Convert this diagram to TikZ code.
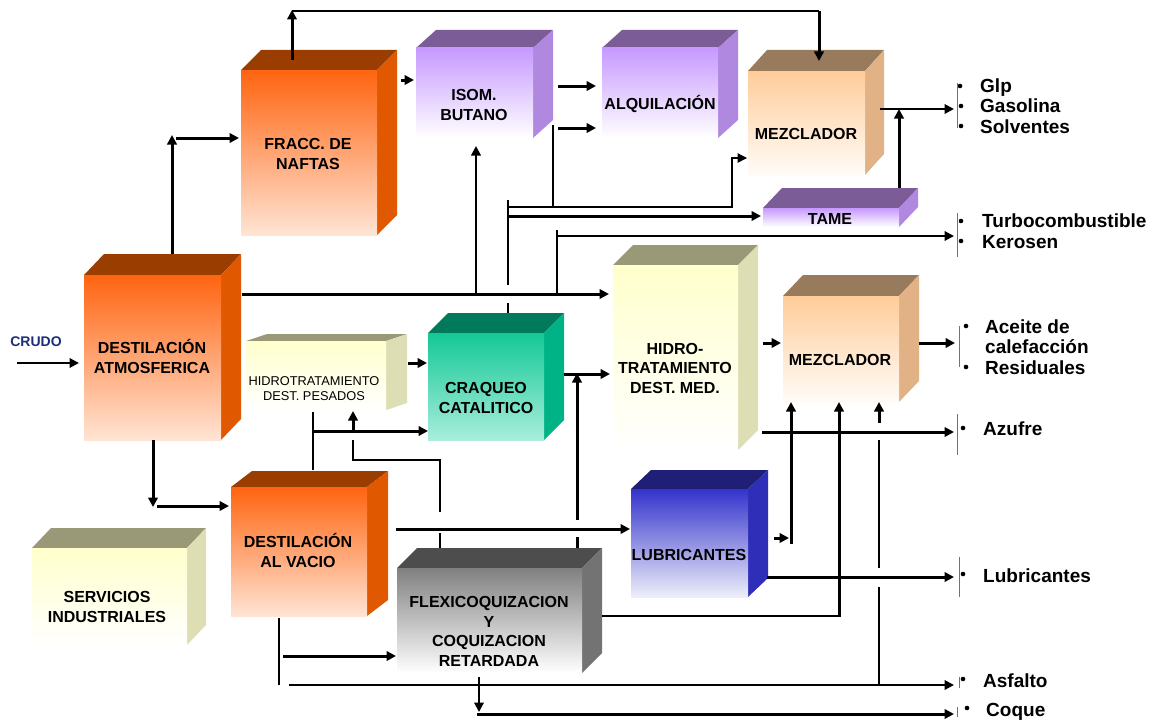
\documentclass[tikz,border=0pt]{standalone}
\usepackage{fontspec}
\setmainfont{Liberation Sans}
\usetikzlibrary{arrows.meta}
\definecolor{ortopc}{HTML}{993D00}\definecolor{orsidec}{HTML}{E05800}
\definecolor{orf1}{HTML}{FF6410}\definecolor{orf2}{HTML}{FFE4D4}
\definecolor{putopc}{HTML}{7B5C96}\definecolor{pusidec}{HTML}{B088E0}
\definecolor{puf1}{HTML}{C699FF}\definecolor{puf2}{HTML}{FFFFFF}
\definecolor{mztopc}{HTML}{977B5C}\definecolor{mzsidec}{HTML}{E0B286}
\definecolor{mzf1}{HTML}{FFCC99}\definecolor{mzf2}{HTML}{FFFCF8}
\definecolor{yetopc}{HTML}{999977}\definecolor{yesidec}{HTML}{DEDEB4}
\definecolor{yef1}{HTML}{FFFFCC}\definecolor{yef2}{HTML}{FFFFFF}
\definecolor{grtopc}{HTML}{007A5A}\definecolor{grsidec}{HTML}{00B386}
\definecolor{grf1}{HTML}{14C896}\definecolor{grf2}{HTML}{A8EEDC}
\definecolor{gytopc}{HTML}{4D4D4D}\definecolor{gysidec}{HTML}{737373}
\definecolor{gyf1}{HTML}{808080}\definecolor{gyf2}{HTML}{FFFFFF}
\definecolor{bltopc}{HTML}{1F1F77}\definecolor{blsidec}{HTML}{2E2EB8}
\definecolor{blf1}{HTML}{3333CC}\definecolor{blf2}{HTML}{EEEEFA}
\definecolor{crudoc}{HTML}{1C2E7A}
\tikzset{
 ortop/.style={fill=ortopc}, orside/.style={fill=orsidec}, orfront/.style={top color=orf1, bottom color=orf2},
 putop/.style={fill=putopc}, puside/.style={fill=pusidec}, pufront/.style={top color=puf1, bottom color=puf2},
 mztop/.style={fill=mztopc}, mzside/.style={fill=mzsidec}, mzfront/.style={top color=mzf1, bottom color=mzf2},
 yetop/.style={fill=yetopc}, yeside/.style={fill=yesidec}, yefront/.style={top color=yef1, bottom color=yef2},
 grtop/.style={fill=grtopc}, grside/.style={fill=grsidec}, grfront/.style={top color=grf1, bottom color=grf2},
 gytop/.style={fill=gytopc}, gyside/.style={fill=gysidec}, gyfront/.style={top color=gyf1, bottom color=gyf2},
 bltop/.style={fill=bltopc}, blside/.style={fill=blsidec}, blfront/.style={top color=blf1, bottom color=blf2},
 thk/.style={line width=3pt},
 med/.style={line width=2pt},
 thn/.style={line width=1.3pt},
 arw/.style={-{Triangle[length=9.5pt,width=9.5pt]}},
 brk/.style={line width=0.8pt, draw=black!55},
 lbl/.style={font=\bfseries\fontsize{16}{19.5}\selectfont, align=center, anchor=base, inner sep=0pt},
 outlbl/.style={font=\bfseries\fontsize{19}{20.5}\selectfont, align=left, anchor=base west, inner sep=0pt},
}
\newcommand{\cubo}[7]{%
 \fill[#7top] (#1,#2) -- (#1+#5,#2-#6) -- (#3+#5,#2-#6) -- (#3,#2) -- cycle;
 \fill[#7side] (#3,#2) -- (#3+#5,#2-#6) -- (#3+#5,#4-#6) -- (#3,#4) -- cycle;
 \shade[#7front] (#1,#2) rectangle (#3,#4);
}
\begin{document}
\begin{tikzpicture}[x=1pt,y=-1pt]
\useasboundingbox (0,0) rectangle (1158,725);
% boxes
\cubo{241}{70}{377}{235}{20}{20}{or}
\cubo{416}{48}{533}{138}{20}{18}{pu}
\cubo{602}{48}{718}{138}{20}{18}{pu}
\cubo{748}{71}{865}{175}{19}{21}{mz}
\cubo{763}{208}{899}{227}{19}{20}{pu}
\cubo{84}{275}{221}{440}{20}{21}{or}
\cubo{246}{341}{386}{410}{21}{7}{ye}
\cubo{428}{333}{544}{440}{20}{20}{gr}
\cubo{613}{265}{738}{450}{20}{20}{ye}
\cubo{783}{296}{899}{402}{20}{21}{mz}
\cubo{231}{487}{367}{616}{21}{16}{or}
\cubo{32}{548}{187}{645}{19}{20}{ye}
\cubo{397}{568}{582}{673}{20}{20}{gy}
\cubo{631}{489}{748}{597}{20}{19}{bl}
% labels (base anchor = baseline of last line)
\node[lbl] (fracc) at (308,169) {FRACC. DE\\NAFTAS};
\node[lbl] (isom) at (474,120) {ISOM.\\BUTANO};
\node[lbl] (alq) at (660,109) {ALQUILACIÓN};
\node[lbl] (mez1) at (806,139) {MEZCLADOR};
\node[lbl] (tame) at (830,224) {TAME};
\node[lbl] (atm) at (152,373) {DESTILACIÓN\\ATMOSFERICA};
\node[lbl, font=\fontsize{12.8}{15}\selectfont] (hdp) at (314,400) {HIDROTRATAMIENTO\\DEST. PESADOS};
\node[lbl] (craq) at (486,413) {CRAQUEO\\CATALITICO};
\node[lbl] (hdm) at (675,393) {HIDRO-\\TRATAMIENTO\\DEST. MED.};
\node[lbl] (mez2) at (840,365) {MEZCLADOR};
\node[lbl] (vac) at (298,567) {DESTILACIÓN\\AL VACIO};
\node[lbl] (serv) at (107,622) {SERVICIOS\\INDUSTRIALES};
\node[lbl] (flexi) at (489,666) {FLEXICOQUIZACION\\Y\\COQUIZACION\\RETARDADA};
\node[lbl] (lub) at (689,560) {LUBRICANTES};
\node[lbl, font=\bfseries\fontsize{14}{16}\selectfont, text=crudoc] (crudo) at (36,346) {CRUDO};
% outputs
\node[outlbl] (o1) at (980,133) {Glp\\Gasolina\\Solventes};
\node[outlbl] (o2) at (982,248) {Turbocombustible\\Kerosen};
\node[outlbl] (o3) at (985,374) {Aceite de\\calefacción\\Residuales};
\node[outlbl] (o4) at (983,435) {Azufre};
\node[outlbl] (o5) at (983,582) {Lubricantes};
\node[outlbl] (o6) at (983,687) {Asfalto};
\node[outlbl] (o7) at (986,716) {Coque};
\foreach \p in {(960,86),(961,106),(961,126),(961,221),(961,241),(966,326),(966,367),(963,428),(963,574),(963,679),(967,708)}
  \fill \p circle (2.3pt);
\draw[brk] (957,83) -- (957,128);
\draw[brk] (957,213) -- (957,257);
\draw[brk] (959,326) -- (959,367);
\draw[brk] (957,414) -- (957,455);
\draw[brk] (959,557) -- (959,597);
\draw[brk] (959,677) -- (959,688);
\draw[brk] (957,707) -- (957,717);
% connectors
\draw[med,arw] (17,363) -- (79,363);
\draw[thk,arw] (172,254) -- (172,135);
\draw[thk,arw] (176,138) -- (239,138);
\draw[thk,arw] (292,60) -- (292,10);
\draw[med] (292,11) -- (819,11);
\draw[thk,arw] (819,11) -- (819,61);
\draw[thk,arw] (401,80) -- (414,80);
\draw[thk,arw] (558,86) -- (596,86);
\draw[thk,arw] (558,128) -- (596,128);
\draw[thn] (553,125) -- (553,207);
\draw[thn,arw] (508,207) -- (732,207) -- (732,158) -- (747,158);
\draw[thk,arw] (508,216) -- (761,216);
\draw[thn] (508,200) -- (508,285);
\draw[thn] (508,303) -- (508,313);
\draw[thk,arw] (242,294) -- (609,294);
\draw[med,arw] (476,294) -- (476,146);
\draw[thn] (557,294) -- (557,230);
\draw[med,arw] (557,236) -- (954,236);
\draw[med,arw] (880,109) -- (954,109);
\draw[thk,arw] (899,188) -- (899,109);
\draw[thk,arw] (408,363) -- (427,363);
\draw[thk,arw] (564,374) -- (610,374);
\draw[thk,arw] (577,520) -- (577,373);
\draw[thk] (577,537) -- (577,548);
\draw[med] (313,470) -- (313,412);
\draw[thk,arw] (313,431) -- (428,431);
\draw[thk,arw] (353,431) -- (353,411);
\draw[thn] (440,548) -- (440,533);
\draw[thn] (440,512) -- (440,460) -- (353,460) -- (353,440);
\draw[thk,arw] (153,440) -- (153,507);
\draw[thk,arw] (157,506) -- (229,506);
\draw[thk,arw] (396,529) -- (630,529);
\draw[thk,arw] (283,656) -- (396,656);
\draw[thn] (279,618) -- (279,685);
\draw[med,arw] (289,685) -- (954,685);
\draw[med,arw] (479,677) -- (479,712);
\draw[thk,arw] (477,714) -- (954,714);
\draw[thn] (602,616) -- (839,616);
\draw[thk,arw] (839,617) -- (839,402);
\draw[thn] (879,685) -- (879,587);
\draw[thn] (879,568) -- (879,440);
\draw[thk,arw] (879,423) -- (879,402);
\draw[thk,arw] (774,538) -- (789,538);
\draw[thk,arw] (791,544) -- (791,402);
\draw[thk,arw] (767,577) -- (954,577);
\draw[thk,arw] (762,432) -- (954,432);
\draw[thk,arw] (763,343) -- (781,343);
\draw[thk,arw] (919,343) -- (955,343);
\end{tikzpicture}
\end{document}
